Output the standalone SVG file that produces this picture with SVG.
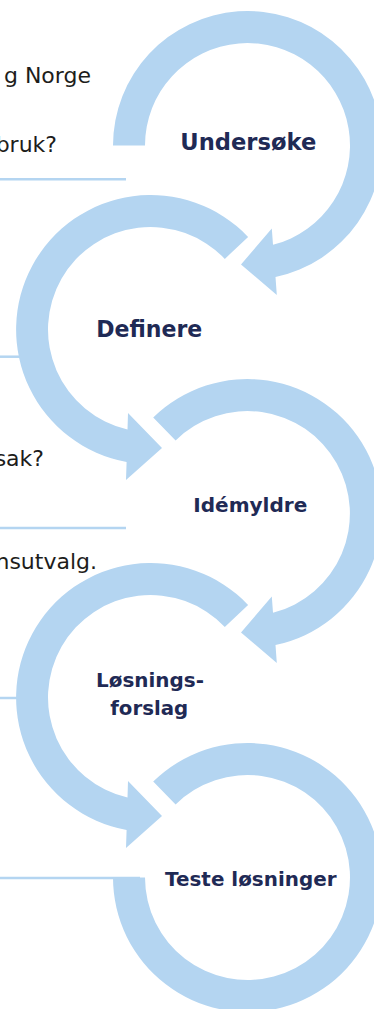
<svg xmlns="http://www.w3.org/2000/svg" width="374" height="1009" viewBox="0 0 374 1009">
  <style>
    .ring { fill: #b4d5f1; }
    .rule { stroke: #b4d5f1; stroke-width: 2.5; fill: none; }
    .note { font-family: "DejaVu Sans", "Liberation Sans", sans-serif; font-size: 22px; fill: #1d1d1b; text-anchor: end; }
    .label { font-family: "DejaVu Sans", "Liberation Sans", sans-serif; font-weight: bold; fill: #1f2a55; text-anchor: middle; }
  </style>
  <defs>
    <!-- clockwise ring ending in an arrowhead at lower right -->
    <path id="ringCW" d="M -94.3 -95.9 A 134.5 134.5 0 1 1 28 131.6 L 29.3 149.5 L -6.5 119 L 24.3 83 L 25.5 99.3 A 102.5 102.5 0 1 0 -71.9 -73.1 Z"/>
    <!-- counter-clockwise ring ending in an arrowhead at lower left -->
    <path id="ringCCW" d="M 97.6 -92.6 A 134.5 134.5 0 1 0 -23.9 132.4 L -24.5 150.5 L 11.5 118.5 L -22.5 83.5 L -23 99.9 A 102.5 102.5 0 1 1 74.3 -70.6 Z"/>
  </defs>

  <!-- side notes and separator rules -->
  <g id="notes">
    <line class="rule" x1="0" y1="179.3" x2="126" y2="179.3"/>
    <line class="rule" x1="0" y1="356.7" x2="24" y2="356.7"/>
    <line class="rule" x1="0" y1="528" x2="126" y2="528"/>
    <line class="rule" x1="0" y1="698" x2="24" y2="698"/>
    <line class="rule" x1="0" y1="878" x2="140" y2="878"/>
    <text class="note" x="91" y="82.5">g Norge</text>
    <text class="note" x="57" y="152">bruk?</text>
    <text class="note" x="44" y="465.5">sak?</text>
    <text class="note" x="97" y="568.5">nsutvalg.</text>
  </g>

  <!-- cycle arrows linking the steps -->
  <g id="connectors">
    <path class="ring" transform="translate(247.5 145.5)" d="M -134.5 0 A 134.5 134.5 0 1 1 28 131.6 L 29.3 149.5 L -6.5 119 L 24.3 83 L 25.5 99.3 A 102.5 102.5 0 1 0 -102.5 0 Z"/>
    <use class="ring" href="#ringCCW" transform="translate(150.5 329.5)"/>
    <use class="ring" href="#ringCW" transform="translate(247.5 513.5)"/>
    <use class="ring" href="#ringCCW" transform="translate(150.5 697.5)"/>
    <path class="ring" transform="translate(247.5 877.5)" d="M -94.3 -95.9 A 134.5 134.5 0 1 1 -134.5 0 L -102.5 0 A 102.5 102.5 0 1 0 -71.9 -73.1 Z"/>
  </g>

  <g id="step-undersoke">
    <text class="label" x="248.3" y="150" font-size="23" textLength="136" lengthAdjust="spacingAndGlyphs">Undersøke</text>
  </g>
  <g id="step-definere">
    <text class="label" x="149.3" y="337.3" font-size="22.5" textLength="106" lengthAdjust="spacingAndGlyphs">Definere</text>
  </g>
  <g id="step-idemyldre">
    <text class="label" x="250.3" y="512.3" font-size="20" textLength="114" lengthAdjust="spacingAndGlyphs">Idémyldre</text>
  </g>
  <g id="step-losningsforslag">
    <text class="label" x="150" y="687.3" font-size="20" textLength="108" lengthAdjust="spacingAndGlyphs">Løsnings-</text>
    <text class="label" x="149.2" y="715" font-size="20" textLength="78" lengthAdjust="spacingAndGlyphs">forslag</text>
  </g>
  <g id="step-teste">
    <text class="label" x="250.8" y="885.7" font-size="19.5" textLength="171.5" lengthAdjust="spacingAndGlyphs">Teste løsninger</text>
  </g>
</svg>
